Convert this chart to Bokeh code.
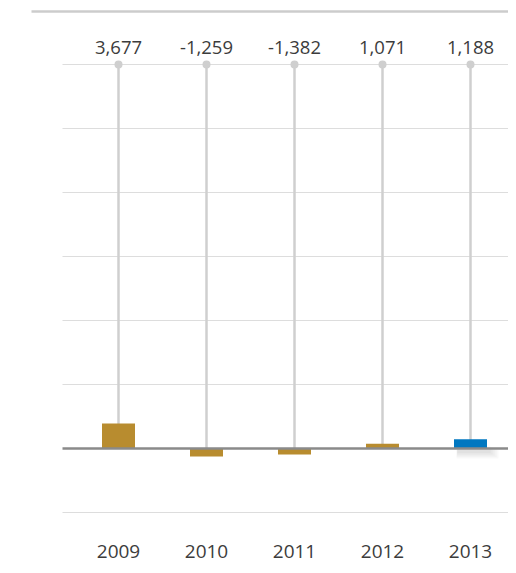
from bokeh.plotting import figure
from bokeh.models import Range1d, ColumnDataSource
from bokeh.core.properties import value
from bokeh.embed import file_html
from bokeh.resources import INLINE

# Data
years = ["2009", "2010", "2011", "2012", "2013"]
value_labels = ["3,677", "-1,259", "-1,382", "1,071", "1,188"]
bar_values = [3900, -1250, -950, 750, 1450]
bar_colors = ["#b88c2f", "#b88c2f", "#b88c2f", "#b88c2f", "#0077c0"]
grid_values = [-10000, 10000, 20000, 30000, 40000, 50000, 60000]
stem_top = 60000

xs = list(range(len(years)))

W, H = 508, 565
X0, PXX = 118, 88        # pixel of first category, pixels per category
Y0, PXY = 448, 64        # pixel of zero line, pixels per 10000

def vy(py):
    return (Y0 - py) / PXY * 10000

def vx(px):
    return (px - X0) / PXX

p = figure(width=W, height=H, output_backend="svg", toolbar_location=None,
           min_border=0, min_border_left=0, min_border_right=0,
           min_border_top=0, min_border_bottom=0)
p.x_range = Range1d(vx(0), vx(W))
p.y_range = Range1d(vy(H), vy(0))
p.axis.visible = False
p.grid.visible = False
p.outline_line_color = None
p.background_fill_color = "white"
p.border_fill_color = "white"

x_grid_left = vx(62)
x_right = vx(W + 10)

# top rule
p.segment(x0=[vx(31)], x1=[x_right], y0=[vy(11)], y1=[vy(11)],
          line_color="#cccccc", line_width=2.5)

# gridlines
p.segment(x0=[x_grid_left] * len(grid_values), x1=[x_right] * len(grid_values),
          y0=grid_values, y1=grid_values, line_color="#dddddd", line_width=1)

# stems
p.segment(x0=xs, x1=xs, y0=[stem_top] * len(xs), y1=[0] * len(xs),
          line_color="#cfcfcf", line_width=2.5)

# soft shadow under the highlighted bar
for i in range(5):
    grow = 0.025 * i
    p.vbar(x=[xs[-1] + 0.04 + 0.01 * i], width=0.38 + grow, top=[300 - 120 * i],
           bottom=[-700 - 220 * i], fill_color="#000000", fill_alpha=0.022,
           line_color=None)

src = ColumnDataSource(dict(x=xs, top=bar_values, color=bar_colors))
p.vbar(x="x", width=0.375, top="top", bottom=0, fill_color="color",
       line_color=None, source=src)

# baseline
p.segment(x0=[x_grid_left], x1=[x_right], y0=[0], y1=[0],
          line_color="#8a8a8a", line_width=2.5)

# dots
p.scatter(x=xs, y=[stem_top] * len(xs), size=8, fill_color="#cfcfcf",
          line_color=None)

# value labels
p.text(x=xs, y=[vy(47)] * len(xs), text=value_labels,
       text_align="center", text_baseline="middle",
       text_font=value("Open Sans"), text_font_size="18.5px", text_color="#3c3c3c")

# year labels
p.text(x=xs, y=[vy(551)] * len(xs), text=years,
       text_align="center", text_baseline="middle",
       text_font=value("Open Sans"), text_font_size="19px", text_color="#3c3c3c")

open("out.html", "w").write(file_html(p, INLINE))
